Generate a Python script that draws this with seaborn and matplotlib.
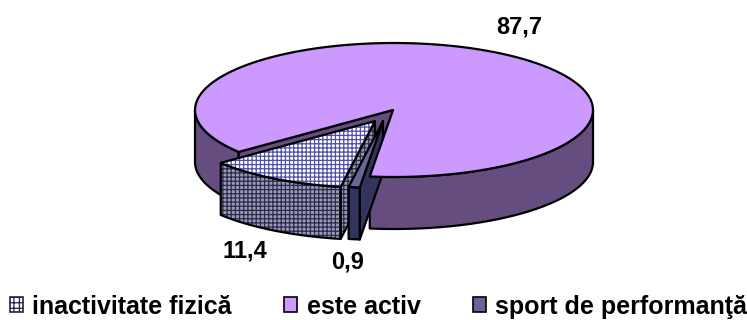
import numpy as np
import matplotlib
matplotlib.use("Agg")
import matplotlib.pyplot as plt
from matplotlib.patches import Polygon, Patch
import seaborn as sns

# Shares of activity level, in percent
categories = ["inactivitate fizică", "este activ", "sport de performanţă"]
shares = [11.4, 87.7, 0.9]
value_labels = ["11,4", "87,7", "0,9"]

# Pie geometry in pixel units
CX, CY, RX, RY = 394, 110, 199, 67
DEPTH = 52
APEX_SHIFT = (-1, 0)
START_ANGLE = 97.0
OFFSETS = {"sport": (-10, 11), "inactive": (-18, 11)}

sns.set_theme(style="white")
plt.rcParams["font.family"] = ["Liberation Sans", "DejaVu Sans"]
plt.rcParams["hatch.linewidth"] = 0.9

top_colors = sns.color_palette(["#FFFFFF", "#CC99FF", "#666699"])
wall_colors = sns.color_palette(["#9C9CAE", "#664D80", "#333360"])
GRID_TOP = "#5050A8"
GRID_WALL = "#2A2A55"

fig = plt.figure(figsize=(7.47, 3.2), dpi=100, facecolor="white")
ax = fig.add_axes([0, 0, 1, 1])
ax.set_xlim(0, 747)
ax.set_ylim(320, 0)
ax.set_axis_off()


def arc(t0, t1, dx=0, dy=0):
    t = np.radians(np.linspace(t0, t1, 120))
    return np.column_stack([CX + dx + RX * np.cos(t), CY + dy + RY * np.sin(t)])


def shape(points, face, z, hatch=None, grid=None):
    """Fill a polygon, then outline it in black on top of any hatching."""
    if hatch:
        ax.add_patch(Polygon(points, closed=True, facecolor=face, edgecolor=grid,
                             hatch=hatch, linewidth=0, zorder=z))
        ax.add_patch(Polygon(points, closed=True, fill=False, edgecolor="black",
                             linewidth=1.6, joinstyle="round", zorder=z + 0.01))
    else:
        ax.add_patch(Polygon(points, closed=True, facecolor=face, edgecolor="black",
                             linewidth=1.6, joinstyle="round", zorder=z))


def wall(points):
    return np.vstack([points, points[::-1] + [0, DEPTH]])


# Slice angles follow directly from the shares
sweep = [s * 3.6 for s in shares]
sport_a = (START_ANGLE, START_ANGLE + sweep[2])
inactive_a = (sport_a[1], sport_a[1] + sweep[0])
active_a = (inactive_a[1], inactive_a[1] + sweep[1])

# Main slice: rim, cut face on the left
apex = np.array([CX + APEX_SHIFT[0], CY + APEX_SHIFT[1]])
shape(wall(arc(360, active_a[1])), wall_colors[1], 1)
shape(wall(arc(active_a[0], 180)), wall_colors[1], 1)
left_edge = np.vstack([apex, arc(active_a[0], active_a[0])[:1]])
shape(wall(left_edge), wall_colors[1], 1.5)

# Inactivity slice, pulled out towards the lower left
off = OFFSETS["inactive"]
a_in = apex + off
rim = arc(*inactive_a, *off)
shape(wall(np.vstack([a_in, rim[0]])), wall_colors[0], 2, "++++", GRID_WALL)
shape(wall(rim), wall_colors[0], 2.1, "++++", GRID_WALL)
shape(np.vstack([a_in, rim]), top_colors[0], 2.2, "++++", GRID_TOP)

# Performance sport sliver
off = OFFSETS["sport"]
a_sp = apex + off
rim = arc(*sport_a, *off)
shape(wall(np.vstack([a_sp, rim[0]])), wall_colors[2], 3)
shape(wall(rim), wall_colors[2], 3.1)
shape(np.vstack([a_sp, rim]), top_colors[2], 3.2)

# Top of the main slice closes over the cut faces behind it
shape(np.vstack([apex, arc(*active_a)]), top_colors[1], 4)

# Value labels
label_pos = [(245, 251), (519, 27), (348, 262)]
for text, (x, y) in zip(value_labels, label_pos):
    ax.text(x, y, text, fontsize=17, fontweight="bold", color="black",
            ha="center", va="center", zorder=6)

# Legend
handles = [
    Patch(facecolor=top_colors[0], edgecolor="#222244", hatch="+++", linewidth=1.2),
    Patch(facecolor=top_colors[1], edgecolor="black", linewidth=1.2),
    Patch(facecolor=top_colors[2], edgecolor="black", linewidth=1.2),
]
ax.legend(handles, categories, ncol=3, loc="center", bbox_to_anchor=(0.507, 0.042),
          frameon=False, labelcolor="black",
          prop={"family": "Liberation Sans", "weight": "bold", "size": 18},
          handlelength=0.52, handleheight=0.52, handletextpad=0.37, columnspacing=2.1,
          borderpad=0, borderaxespad=0)

sns.despine(ax=ax, left=True, bottom=True)
fig.savefig("out.png", dpi=100, facecolor="white")
